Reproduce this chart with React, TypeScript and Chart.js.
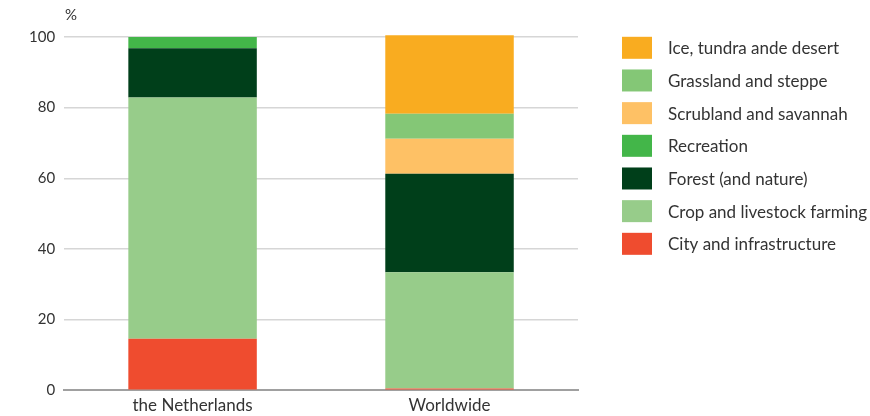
import React, { useEffect, useRef } from "react";
import { Chart, registerables } from "chart.js";

Chart.register(...registerables);

const categories = ["the Netherlands", "Worldwide"];
const seriesNames = [
  "City and infrastructure",
  "Crop and livestock farming",
  "Forest (and nature)",
  "Recreation",
  "Scrubland and savannah",
  "Grassland and steppe",
  "Ice, tundra ande desert",
];
const cityValues = [14.6, 0.5];
const cropValues = [68.3, 32.9];
const forestValues = [13.9, 27.9];
const recreationValues = [3.2, 0];
const scrubValues = [0, 9.9];
const grassValues = [0, 7.1];
const iceValues = [0, 22.2];
const seriesColors = ["#EF4C2F", "#97CC8A", "#003F1A", "#43B649", "#FEC165", "#84C776", "#F9AC20"];
const yTicks = [0, 20, 40, 60, 80, 100];
const unitLabel = "%";

const FONT = "Lato, 'Open Sans', sans-serif";

const sideLegend = {
  id: "sideLegend",
  afterDraw(chart: any) {
    const ctx = chart.ctx;
    const area = chart.chartArea;
    const ds = chart.data.datasets;
    const n = ds.length;
    ctx.save();
    ctx.font = `17px ${FONT}`;
    ctx.textBaseline = "middle";
    ctx.textAlign = "left";
    const boxX = area.right + 44;
    for (let i = 0; i < n; i++) {
      const d = ds[n - 1 - i];
      const cy = 47.8 + i * 32.67;
      ctx.fillStyle = d.backgroundColor;
      ctx.fillRect(boxX, cy - 11, 30, 22);
      ctx.fillStyle = "#333333";
      ctx.fillText(d.label, boxX + 46, cy + 1);
    }
    ctx.font = `15px ${FONT}`;
    ctx.fillText(unitLabel, area.left + 1, 15);
    ctx.restore();
  },
};

export default function App() {
  const ref = useRef<HTMLCanvasElement>(null);
  useEffect(() => {
    document.body.style.margin = "0";
    const values = [cityValues, cropValues, forestValues, recreationValues, scrubValues, grassValues, iceValues];
    const chart = new Chart(ref.current!, {
      type: "bar",
      data: {
        labels: categories,
        datasets: seriesNames.map((name, i) => ({
          label: name,
          data: values[i],
          backgroundColor: seriesColors[i],
          borderWidth: 0,
          categoryPercentage: 1,
          barPercentage: 0.5,
          clip: false as any,
        })),
      },
      options: {
        animation: false,
        responsive: true,
        maintainAspectRatio: false,
        layout: { padding: { top: 37, right: 292, left: 20, bottom: -4.6 } },
        plugins: { legend: { display: false }, tooltip: { enabled: false } },
        scales: {
          x: {
            stacked: true,
            grid: { display: false, drawTicks: false },
            border: { display: true, color: "#a0a0a0", width: 2 },
            ticks: { color: "#333333", font: { family: FONT, size: 17 }, padding: 5 },
          },
          y: {
            stacked: true,
            min: 0,
            max: 100,
            afterBuildTicks: (axis: any) => {
              axis.ticks = yTicks.map((v) => ({ value: v }));
            },
            grid: { color: "#d6d6d6", lineWidth: 1.5, drawTicks: false },
            border: { display: false },
            ticks: { color: "#333333", font: { family: FONT, size: 15 }, padding: 9 },
          },
        },
      },
      plugins: [sideLegend],
    });
    return () => chart.destroy();
  }, []);
  return (
    <div style={{ width: 870, height: 416, position: "relative" }}>
      <canvas ref={ref} />
    </div>
  );
}
